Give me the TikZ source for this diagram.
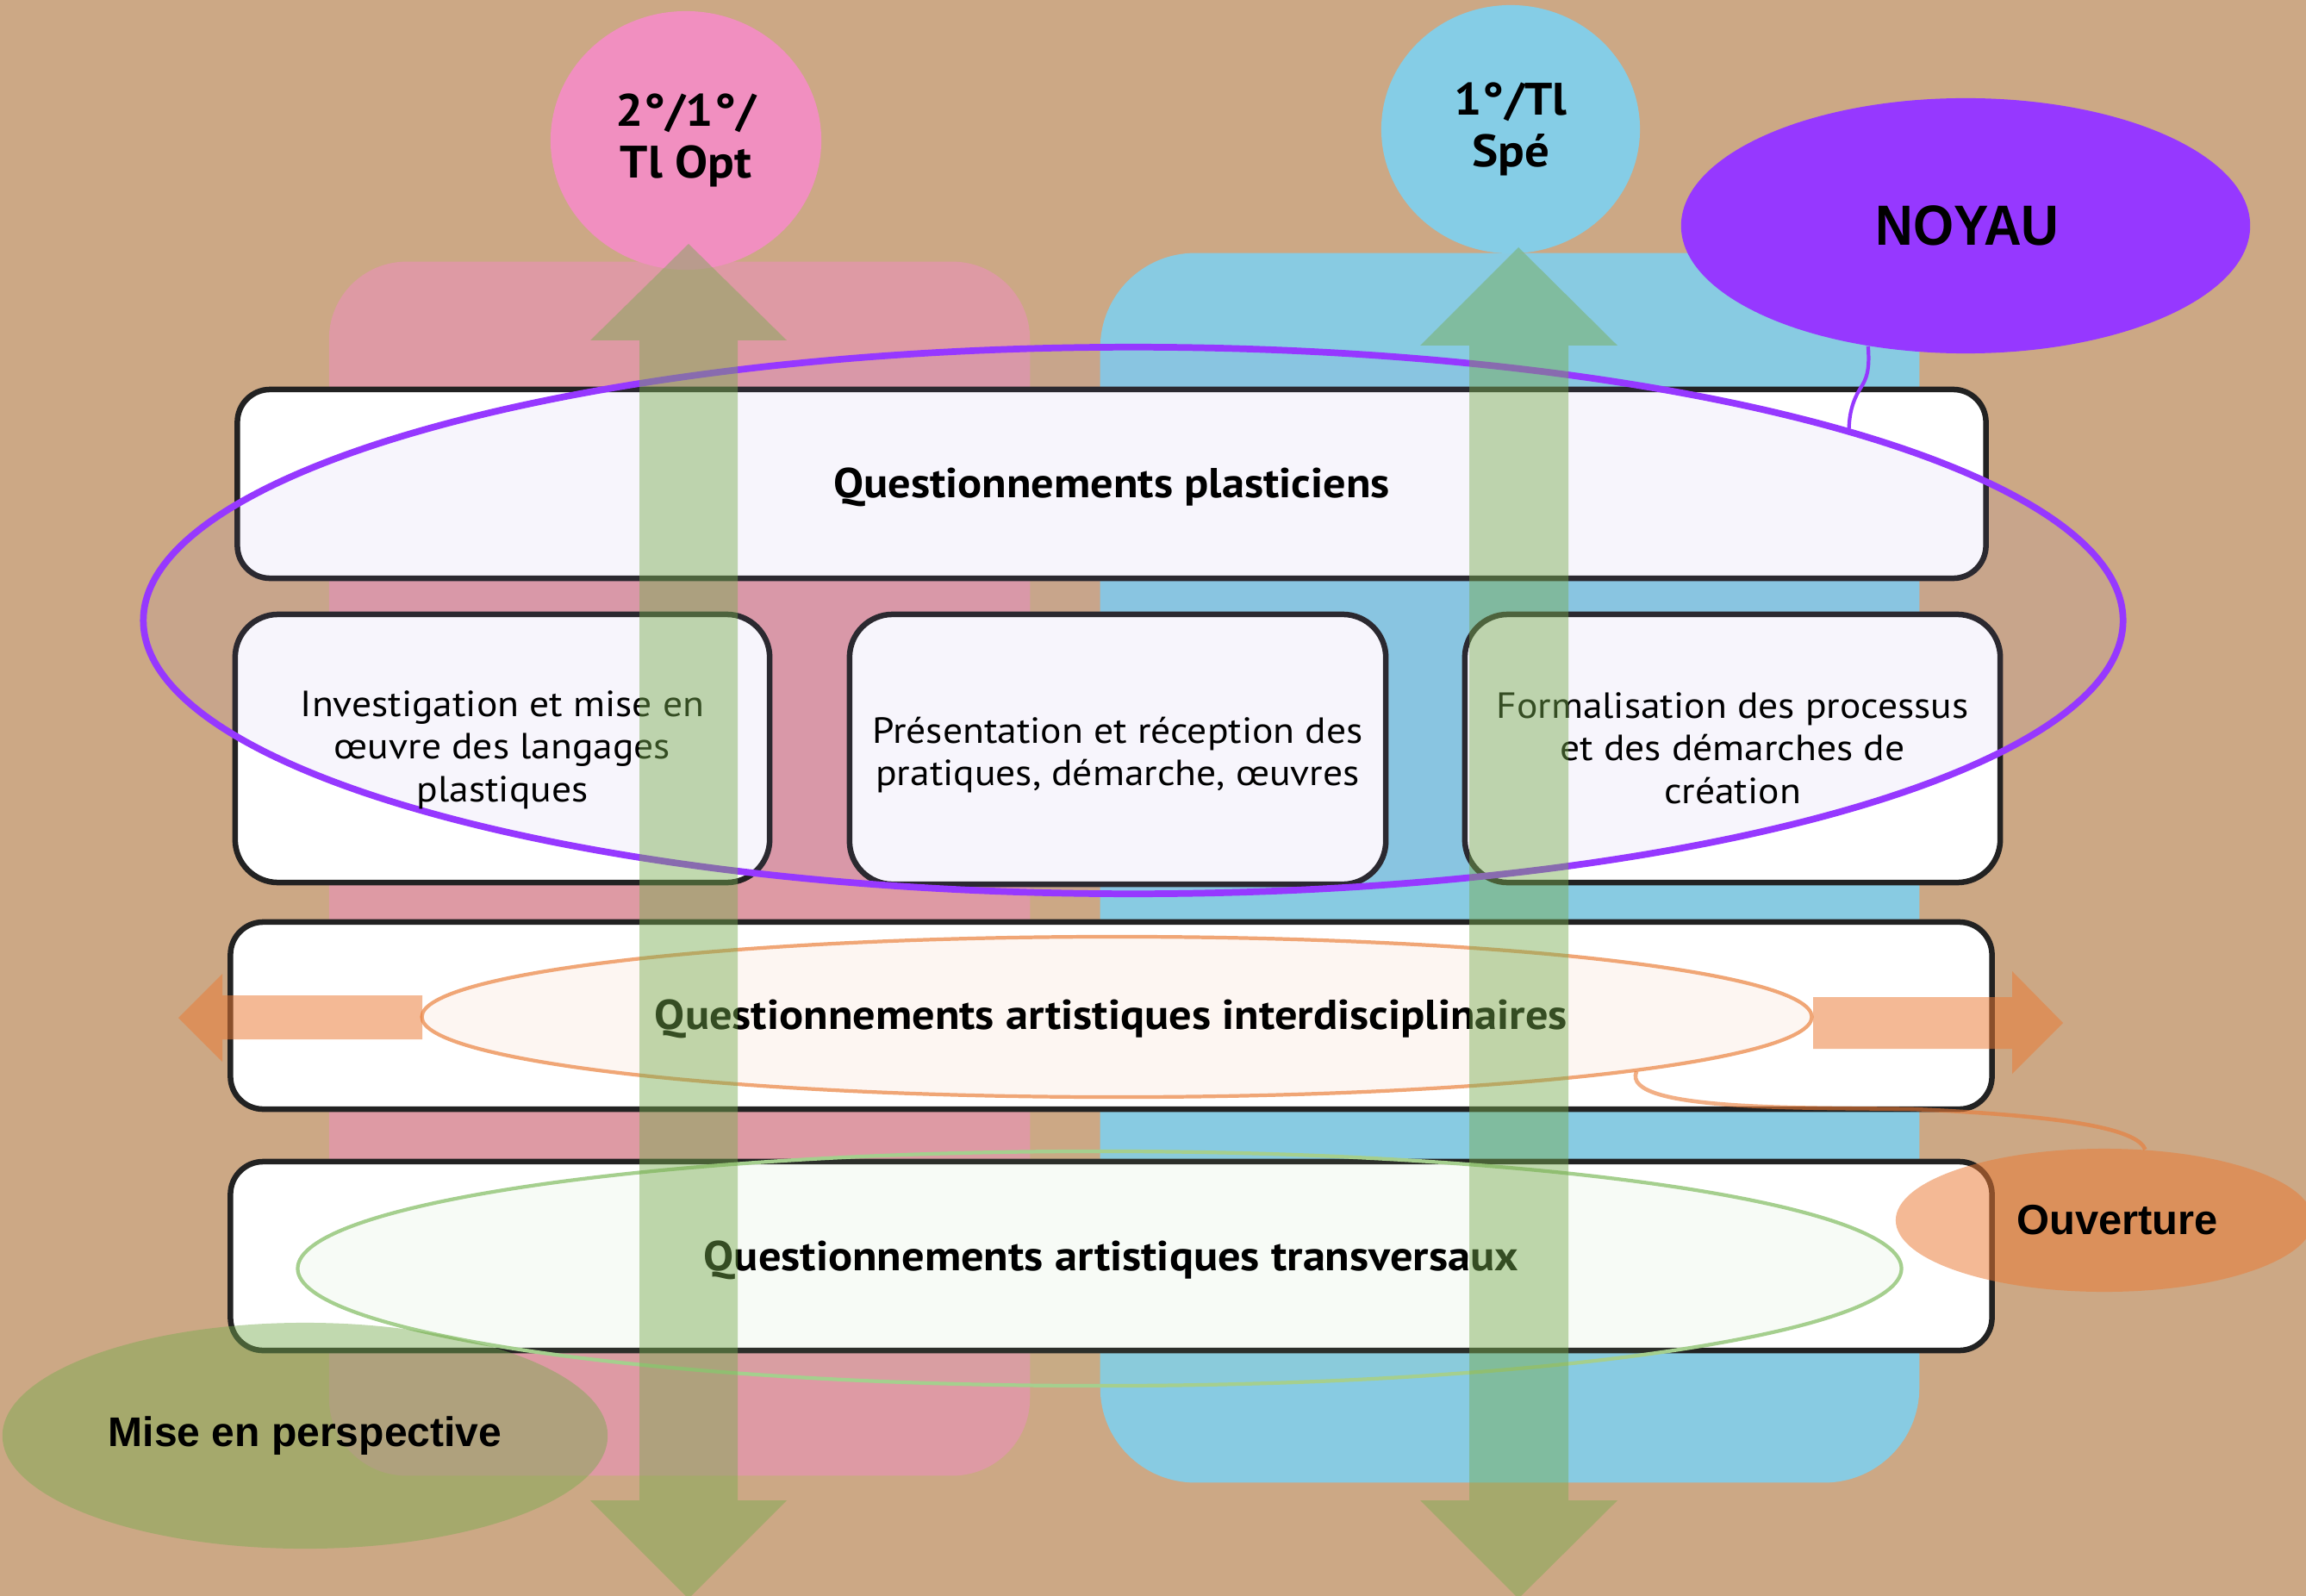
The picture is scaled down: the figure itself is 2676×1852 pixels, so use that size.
\documentclass[tikz,border=0pt]{standalone}
\usepackage{fontspec}
\setmainfont{PT Sans}[FakeStretch=1.08]
\newfontfamily\arialf{Liberation Sans}
\usetikzlibrary{shapes.geometric}
\definecolor{bgtan}{RGB}{204,168,133}
\definecolor{pinkzonec}{RGB}{222,154,164}
\definecolor{bluezonec}{RGB}{136,203,226}
\definecolor{pinkdisc}{RGB}{241,143,192}
\definecolor{bluedisc}{RGB}{133,205,230}
\definecolor{noyauc}{RGB}{150,56,255}
\definecolor{boxline}{RGB}{34,34,34}
\definecolor{lavfill}{RGB}{160,130,220}
\definecolor{oline}{RGB}{240,166,118}
\definecolor{gline}{RGB}{165,207,142}
\definecolor{garrowc}{RGB}{119,171,79}
\definecolor{oarrowc}{RGB}{234,122,53}
\tikzset{
  zone/.style={rectangle, rounded corners=0.9cm, inner sep=0pt, draw=none},
  disc/.style={ellipse, inner sep=0pt, draw=none},
  boxq/.style={rectangle, rounded corners=0.38cm, draw=boxline, line width=1.85pt, fill=white, inner sep=0pt},
  boxs/.style={boxq, rounded corners=0.5cm},
  bodytxt/.style={align=center, font=\fontsize{12}{14.1}\selectfont, text=black, inner sep=0pt},
  headtxt/.style={font=\bfseries\fontsize{13.8}{16}\selectfont, text=black, inner sep=0pt},
  disctxt/.style={align=center, font=\bfseries\fontsize{15}{17}\selectfont, text=black},
  greenarrow/.style={fill=garrowc, fill opacity=0.45},
  orangearrow/.style={fill=oarrowc, fill opacity=0.52},
}
\begin{document}
\begin{tikzpicture}[x=0.01cm,y=-0.01cm]
\fill[bgtan] (0,0) rectangle (2676,1852);
\useasboundingbox (0,0) rectangle (2676,1852);

% background zones
\node[zone, fill=pinkzonec, minimum width=8.13cm, minimum height=14.08cm] (pinkzone) at (788.5,1008) {};
\node[zone, fill=bluezonec, rounded corners=1.1cm, minimum width=9.5cm, minimum height=14.26cm] (bluezone) at (1752,1007) {};

% level discs
\node[disc, fill=pinkdisc, minimum width=3.14cm, minimum height=3.0cm, disctxt] (opt) at (796,163) {2\kern0.2pt°\kern0.2pt/1\kern0.2pt°\kern0.2pt/\\Tl Opt};
\node[disc, fill=bluedisc, minimum width=3.0cm, minimum height=2.88cm, disctxt] (spe) at (1753,150) {1\kern0.2pt°\kern0.2pt/Tl\\Spé};

% NOYAU
\node[disc, fill=noyauc, minimum width=6.6cm, minimum height=2.96cm] (noyau) at (2281,262) {};
\node[font=\arialf\bfseries\fontsize{18.7}{20}\selectfont, xscale=0.92, inner sep=0pt] (noyautxt) at (2283,262) {NOYAU};

% boxes
\node[boxq, minimum width=20.28cm, minimum height=2.19cm] (b1) at (1290,561.5) {};
\node[boxs, minimum width=6.2cm, minimum height=3.11cm] (b2) at (583,868.5) {};
\node[boxs, minimum width=6.22cm, minimum height=3.13cm] (b3) at (1297,869.5) {};
\node[boxs, minimum width=6.21cm, minimum height=3.11cm] (b4) at (2010.5,868.5) {};
\node[boxq, minimum width=20.43cm, minimum height=2.17cm] (b5) at (1289.5,1178.5) {};
\node[boxq, minimum width=20.43cm, minimum height=2.19cm] (b6) at (1289.5,1457.5) {};

% core ellipse
\node[ellipse, inner sep=0pt, minimum width=22.96cm, minimum height=6.34cm, draw=noyauc, line width=2.2pt, fill=lavfill, fill opacity=0.08] (core) at (1315,720) {};

% inner ellipses
\node[ellipse, inner sep=0pt, minimum width=16.12cm, minimum height=1.86cm, draw=oline, line width=1.2pt, fill=oline, fill opacity=0.09] (inter) at (1296,1180) {};
\node[ellipse, inner sep=0pt, minimum width=18.6cm, minimum height=2.72cm, draw=gline, line width=1.2pt, fill=gline, fill opacity=0.08] (trans) at (1276,1472) {};

% texts
\node[headtxt] (t1) at (1290,565) {Questionnements plasticiens};
\node[bodytxt] (t2) at (583,870) {Investigation et mise en\\œuvre des langages\\plastiques};
\node[bodytxt] (t3) at (1297,876) {Présentation et réception des\\pratiques, démarche, œuvres};
\node[bodytxt] (t4) at (2010.5,868) {Formalisation des processus\\et des démarches de\\création};
\node[headtxt] (t5) at (1289.5,1182) {Questionnements artistiques interdisciplinaires};
\node[headtxt] (t6) at (1289.5,1462) {Questionnements artistiques transversaux};

% green vertical arrows
\fill[greenarrow] (799,283) -- (913,395) -- (856,395) -- (856,1741) -- (913,1741) -- (799,1855) -- (685,1741) -- (742,1741) -- (742,395) -- (685,395) -- cycle;
\fill[greenarrow] (1762,287) -- (1877,401) -- (1820,401) -- (1820,1741) -- (1877,1741) -- (1762,1855) -- (1648,1741) -- (1705,1741) -- (1705,401) -- (1648,401) -- cycle;

% orange horizontal arrows
\fill[orangearrow] (490,1155) -- (258,1155) -- (258,1130) -- (207,1181) -- (258,1232) -- (258,1206) -- (490,1206) -- cycle;
\fill[orangearrow] (2104,1157) -- (2335,1157) -- (2335,1127) -- (2394,1187) -- (2335,1246) -- (2335,1217) -- (2104,1217) -- cycle;

% Ouverture and Mise en perspective
\node[ellipse, inner sep=0pt, minimum width=4.84cm, minimum height=1.66cm, fill=oarrowc, fill opacity=0.52, text opacity=1, font=\arialf\bfseries\fontsize{13.9}{16}\selectfont] (ouv) at (2442,1416) {\hspace*{0.3cm}Ouverture};
\node[ellipse, inner sep=0pt, minimum width=7.02cm, minimum height=2.62cm, fill=garrowc, fill opacity=0.45, text opacity=1, font=\arialf\bfseries\fontsize{13.66}{16}\selectfont] (mise) at (354,1666) {Mise en perspective};

% connectors
\draw[noyauc, line width=1.2pt] (noyau.231.8) .. controls (2170,430) and (2166,440) .. (2158,452) .. controls (2150,465) and (2146,480) .. (core.15);
\draw[oarrowc, draw opacity=0.6, line width=1.3pt] (inter.-6.6) .. controls (1880,1290) and (2100,1285) .. (2220,1287) .. controls (2400,1295) and (2480,1310) .. (ouv.60.4);
\end{tikzpicture}
\end{document}
